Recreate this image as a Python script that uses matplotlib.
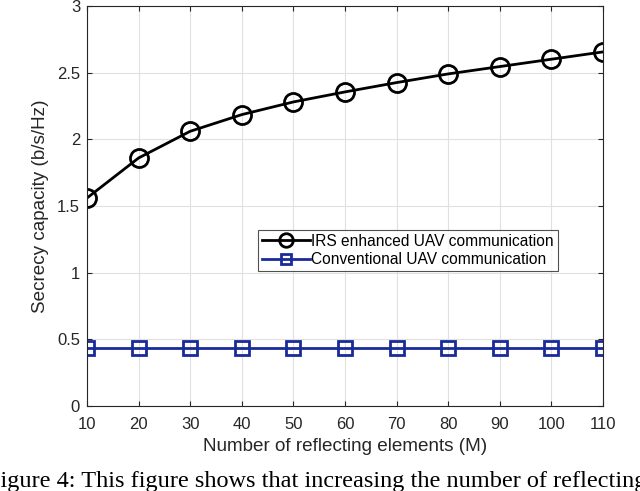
import matplotlib
matplotlib.use("Agg")
import matplotlib.pyplot as plt

elements = [10, 20, 30, 40, 50, 60, 70, 80, 90, 100, 110]
irs_capacity = [1.56, 1.86, 2.06, 2.185, 2.28, 2.355, 2.425, 2.49, 2.545, 2.60, 2.655]
conv_capacity = [0.435] * len(elements)
caption = "Figure 4: This figure shows that increasing the number of reflecting"

plt.rcParams["font.family"] = ["Liberation Sans", "DejaVu Sans"]

fig = plt.figure(figsize=(6.4, 4.91), dpi=100)
ax = fig.add_axes([0.136, 0.173, 0.806, 0.815])

ax.plot(elements, irs_capacity, color="black", lw=2.0, marker="o", ms=13,
        mfc="none", mew=2.0, label="IRS enhanced UAV communication")
ax.plot(elements, conv_capacity, color="#1a2a99", lw=2.0, marker="s", ms=10,
        mfc="none", mew=2.0, label="Conventional UAV communication")

ax.set_xlim(10, 110)
ax.set_ylim(0, 3)
ax.set_xticks(elements)
ax.set_yticks([0, 0.5, 1, 1.5, 2, 2.5, 3])
ax.set_yticklabels(["0", "0.5", "1", "1.5", "2", "2.5", "3"])
ax.grid(True, color="#e0e0e0", lw=0.8)
ax.set_axisbelow(True)
ax.tick_params(direction="in", top=True, right=True, labelsize=12, colors="#262626")
ax.tick_params(axis="x", pad=8)
ax.tick_params(axis="y", pad=5)
for s in ax.spines.values():
    s.set_color("#262626")
    s.set_linewidth(0.8)

ax.set_xlabel("Number of reflecting elements (M)", fontsize=13.6, color="#262626",
              labelpad=4)
ax.set_ylabel("Secrecy capacity (b/s/Hz)", fontsize=13.6, color="#262626",
              labelpad=6)

leg = ax.legend(loc="upper right", bbox_to_anchor=(0.913, 0.44), fontsize=11.2,
                frameon=True, fancybox=False, edgecolor="#262626",
                handlelength=3.1, handletextpad=0.1, borderpad=0.25,
                labelspacing=0.2, borderaxespad=0, markerscale=0.75)
leg.get_frame().set_linewidth(0.8)

fig.text(-0.02, 0.02, caption, fontsize=17.5, family="Liberation Serif",
         ha="left", va="center")

fig.savefig("out.png", dpi=100)
